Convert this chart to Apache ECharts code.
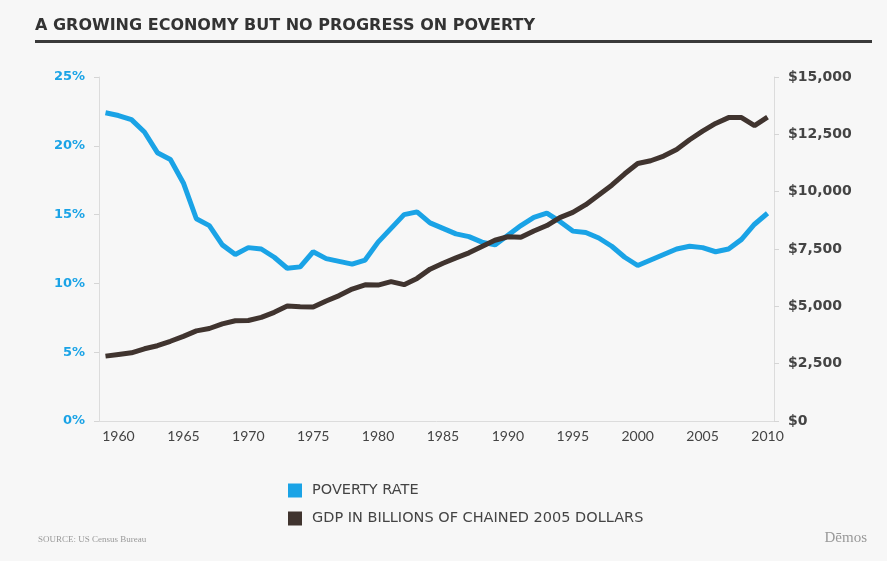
<!DOCTYPE html>
<html>
<head>
<meta charset="utf-8">
<script src="https://cdn.jsdelivr.net/npm/echarts@6/dist/echarts.min.js"></script>
<style>
  html, body { margin: 0; padding: 0; background: #f7f7f7; }
  #chart { width: 887px; height: 561px; }
</style>
</head>
<body>
<div id="chart"></div>
<script>
// years 1959 - 2010
var years = [];
for (var y = 1959; y <= 2010; y++) years.push(String(y));

// poverty rate, %
var povertyRate = [22.4, 22.2, 21.9, 21.0, 19.5, 19.0, 17.3, 14.7, 14.2, 12.8,
  12.1, 12.6, 12.5, 11.9, 11.1, 11.2, 12.3, 11.8, 11.6, 11.4,
  11.7, 13.0, 14.0, 15.0, 15.2, 14.4, 14.0, 13.6, 13.4, 13.0,
  12.8, 13.5, 14.2, 14.8, 15.1, 14.5, 13.8, 13.7, 13.3, 12.7,
  11.9, 11.3, 11.7, 12.1, 12.5, 12.7, 12.6, 12.3, 12.5, 13.2,
  14.3, 15.1];

// GDP, billions of chained 2005 dollars
var gdp = [2828, 2902, 2973, 3149, 3283, 3476, 3692, 3931, 4034, 4235,
  4372, 4380, 4519, 4739, 5010, 4978, 4966, 5233, 5468, 5752,
  5938, 5926, 6075, 5944, 6218, 6621, 6878, 7112, 7334, 7607,
  7880, 8034, 8015, 8287, 8523, 8871, 9094, 9434, 9854, 10284,
  10780, 11226, 11347, 11553, 11841, 12264, 12638, 12976, 13229, 13229,
  12881, 13248];

var seriesNames = ["POVERTY RATE", "GDP IN BILLIONS OF CHAINED 2005 DOLLARS"];

var blue = "#1aa3e6";
var brown = "#40342f";
var font = "'DejaVu Sans', sans-serif";

var myChart = echarts.init(document.getElementById("chart"));
var option = {
  backgroundColor: "#f7f7f7",
  textStyle: { fontFamily: "Lato, 'DejaVu Sans', sans-serif" },
  graphic: [
    {
      type: "text", left: 35, top: 18,
      style: { text: "A GROWING ECONOMY BUT NO PROGRESS ON POVERTY", fill: "#333",
        font: "bold 16px 'DejaVu Sans', sans-serif" }
    },
    {
      type: "rect", shape: { x: 35, y: 40, width: 837, height: 3 },
      style: { fill: "#3a3a3a" }
    },
    {
      type: "text", left: 38, top: 535,
      style: { text: "SOURCE: US Census Bureau", fill: "#999",
        font: "9px 'Liberation Serif', serif" }
    },
    {
      type: "text", right: 20, top: 531,
      style: { text: "Dēmos", fill: "#999", font: "15px 'Liberation Serif', serif" }
    }
  ],
  legend: {
    orient: "vertical",
    left: 283,
    top: 478,
    itemWidth: 14,
    itemHeight: 14,
    itemGap: 13,
    icon: "rect",
    textStyle: { color: "#444", fontSize: 14.5, fontFamily: font, padding: [0, 0, 0, 5] },
    data: seriesNames
  },
  grid: { left: 99, right: 113, top: 77, bottom: 140 },
  xAxis: {
    type: "category",
    data: years,
    boundaryGap: true,
    axisLine: { lineStyle: { color: "#dcdcdc" } },
    axisTick: { alignWithLabel: true, length: 4, interval: 0, lineStyle: { color: "#d5d5d5" } },
    axisLabel: {
      color: "#444", fontSize: 14, margin: 8,
      interval: function (i, v) { return Number(v) % 5 === 0; }
    }
  },
  yAxis: [
    {
      type: "value", min: 0, max: 25, interval: 5,
      axisLine: { show: true, lineStyle: { color: "#dcdcdc" } },
      axisTick: { show: true, length: 5, lineStyle: { color: "#d5d5d5" } },
      splitLine: { show: false },
      axisLabel: { color: blue, fontWeight: "bold", fontSize: 13, fontFamily: font, margin: 14, formatter: "{value}%" }
    },
    {
      type: "value", min: 0, max: 15000, interval: 2500,
      axisLine: { show: true, lineStyle: { color: "#dcdcdc" } },
      axisTick: { show: true, length: 5, lineStyle: { color: "#d5d5d5" } },
      splitLine: { show: false },
      axisLabel: {
        color: "#444", fontWeight: "bold", fontSize: 14, fontFamily: font, margin: 14,
        formatter: function (v) { return "$" + v.toLocaleString("en-US"); }
      }
    }
  ],
  series: [
    {
      name: seriesNames[0], type: "line", yAxisIndex: 0,
      data: povertyRate, symbol: "none",
      itemStyle: { color: blue },
      lineStyle: { color: blue, width: 5 }
    },
    {
      name: seriesNames[1], type: "line", yAxisIndex: 1,
      data: gdp, symbol: "none",
      itemStyle: { color: brown },
      lineStyle: { color: brown, width: 5 }
    }
  ]
};
myChart.setOption(option);
</script>
</body>
</html>
